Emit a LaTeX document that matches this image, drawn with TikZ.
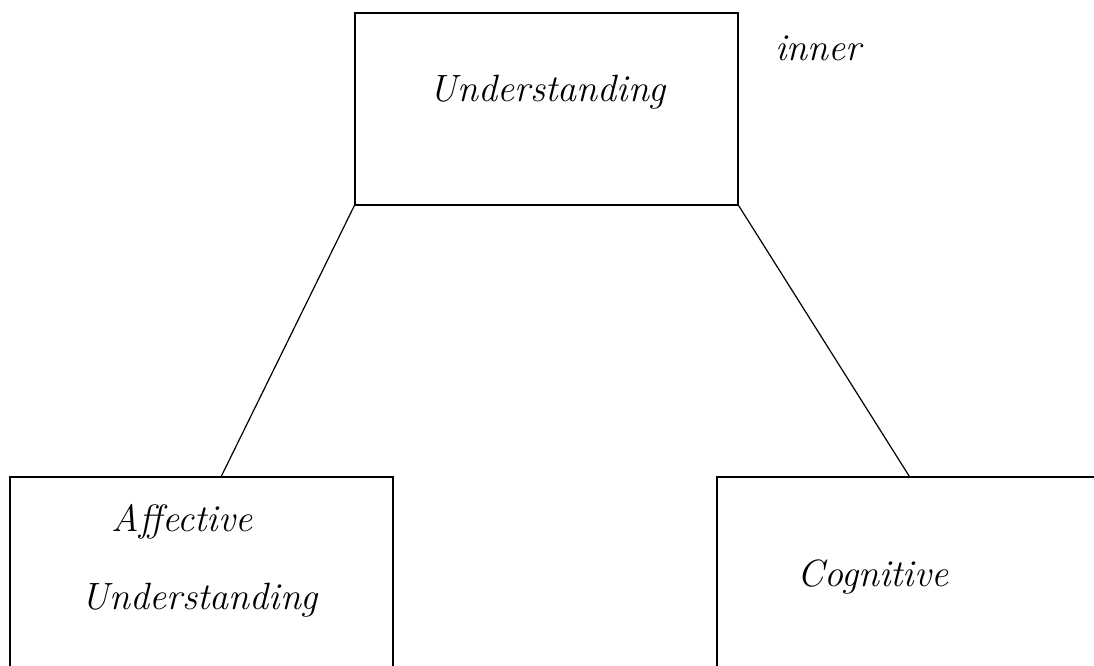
\documentclass[tikz,border=0pt]{standalone}
\begin{document}
\begin{tikzpicture}[x=1pt,y=1pt,
  boxstyle/.style={draw=black,line width=1.4pt,rectangle,inner sep=0pt},
  hand/.style={font=\fontsize{38}{44}\selectfont\itshape,inner sep=0pt,align=left},
  link/.style={draw=black,line width=1.2pt}]
\useasboundingbox (0,0) rectangle (1094,-666);
\fill[white] (0,0) rectangle (1094,-666);
\node[boxstyle,minimum width=383pt,minimum height=192pt] (top) at (546.5,-109) {};
\node[boxstyle,minimum width=383pt,minimum height=240pt] (left) at (201.5,-597) {};
\node[boxstyle,minimum width=400pt,minimum height=240pt] (right) at (917,-597) {};
\node[hand] (toptxt) at (548,-92) {Understanding};
\node[hand] (inner) at (818,-48) {inner};
\node[hand] (aff) at (182,-522) {Affective};
\node[hand] (und) at (200,-600) {Understanding};
\node[hand] (cog) at (873,-577) {Cognitive};
\draw[link] (top.south west) -- ([xshift=212pt]left.north west);
\draw[link] (top.south east) -- ([xshift=193pt]right.north west);
\end{tikzpicture}
\end{document}
